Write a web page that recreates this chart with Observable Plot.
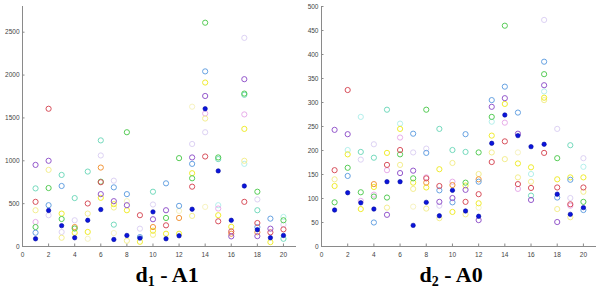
<!DOCTYPE html>
<html>
<head>
<meta charset="utf-8">
<script src="https://cdn.jsdelivr.net/npm/d3@7"></script>
<script src="https://cdn.jsdelivr.net/npm/@observablehq/plot@0.6"></script>
<style>
  body { margin: 0; background: #fff; }
  #wrap { position: relative; width: 600px; height: 295px; overflow: hidden; }
  .panel { position: absolute; top: 0; }
  .lbl { position: absolute; top: 262px; font: bold 22px "Liberation Serif", "DejaVu Serif", serif; color: #000; transform: translateX(-50%); white-space: nowrap; }
  .lbl sub { font-size: 14px; vertical-align: -4px; }
</style>
</head>
<body>
<div id="wrap">
  <div id="left" class="panel" style="left:0px"></div>
  <div id="right" class="panel" style="left:300px"></div>
  <div class="lbl" style="left:167px">d<sub>1</sub> - A1</div>
  <div class="lbl" style="left:451px">d<sub>2</sub> - A0</div>
</div>
<script>
// x categories
const xs = [1,2,3,4,5,6,7,8,9,10,11,12,13,14,15,16,17,18,19,20];
const xTicks = [0,2,4,6,8,10,12,14,16,18,20];
const yTicksLeft = [0,500,1000,1500,2000,2500];
const yTicksRight = [0,50,100,150,200,250,300,350,400,450,500];

// Left panel (d1 - A1)
const d1_blue        = [90,420,243,102,306,431,82,129,98,404,90,125,435,1607,882,306,706,196,102,129];
const d1_red         = [521,1607,null,null,502,750,null,null,365,null,247,null,698,1050,294,176,521,274,165,200];
const d1_orange      = [null,null,null,227,null,921,null,null,null,227,null,333,null,null,null,149,null,166,null,null];
const d1_yellow      = [null,null,384,160,170,568,494,423,55,184,149,149,855,1913,365,230,1372,null,51,null];
const d1_lightYellow = [423,894,102,null,384,null,455,67,null,137,null,null,357,1493,null,null,1000,null,null,null];
const d1_paleYellow  = [null,null,null,null,90,null,157,529,null,null,null,415,1631,462,null,null,null,null,null,null];
const d1_green       = [227,682,321,210,null,756,null,1333,null,null,333,1031,796,2611,1039,null,1784,639,null,306];
const d1_cyan        = [678,null,835,565,874,1238,255,null,null,639,null,null,null,null,1020,null,1770,423,null,90];
const d1_paleCyan    = [null,null,null,null,null,null,null,null,null,null,null,null,null,null,482,null,964,null,null,345];
const d1_lightBlue   = [161,482,706,null,null,null,690,611,110,null,737,474,964,2043,null,null,null,227,325,null];
const d1_purple      = [952,1000,null,null,null,611,529,482,null,318,423,null,1039,1756,null,118,1952,121,208,null];
const d1_lavender    = [null,365,169,306,null,1062,768,null,208,490,null,null,1196,1333,null,null,2434,549,null,255];
const d1_pink        = [286,null,null,null,null,null,null,null,null,null,null,null,null,1552,443,null,1541,null,null,null];

// Right panel (d2 - A0)
const d2_blue        = [76,112,91,78,135,135,44,92,64,117,74,63,215,274,231,208,213,109,67,81];
const d2_red         = [159,326,null,null,170,201,null,142,126,null,93,109,176,219,130,122,195,123,88,123];
const d2_orange      = [null,null,null,130,null,null,null,133,null,128,null,140,null,null,null,null,null,null,null,null];
const d2_yellow      = [126,192,78,124,195,245,133,123,161,72,127,90,231,297,173,165,310,140,144,144];
const d2_lightYellow = [140,null,null,null,81,170,120,79,59,174,67,151,196,182,144,135,305,78,61,114];
const d2_paleYellow  = [null,null,null,null,null,null,83,null,null,null,null,81,null,null,196,null,null,null,null,null];
const d2_green       = [92,164,113,104,102,192,142,285,null,null,133,196,270,460,null,null,359,184,null,93];
const d2_cyan        = [null,null,197,185,285,null,null,null,245,201,197,null,null,null,null,106,null,null,211,null];
const d2_paleCyan    = [null,201,270,null,null,256,null,null,null,null,null,null,260,null,null,151,323,null,null,166];
const d2_lightBlue   = [null,147,null,50,null,null,235,195,117,92,234,135,305,333,279,null,385,102,139,76];
const d2_purple      = [243,234,null,null,66,153,158,null,93,101,118,55,291,309,235,97,336,51,null,null];
const d2_lavender    = [null,null,181,213,null,null,196,204,85,null,null,null,null,null,null,null,472,245,101,184];
const d2_pink        = [null,null,95,108,159,227,null,144,null,135,null,null,null,258,120,null,null,null,85,null];

const colors = {
  red: "#d8505c", orange: "#f2963a", yellow: "#f0ec30", lightYellow: "#f4ee90",
  paleYellow: "#f7f3c0", green: "#56cc56", cyan: "#74dabd", paleCyan: "#b4f0ec",
  lightBlue: "#66a2e2", purple: "#9458cc", lavender: "#ddd2f4", pink: "#e8adea", blue: "#0a14dc"
};

function rows(name, vals) {
  const out = [];
  vals.forEach((v, i) => { if (v != null) out.push({x: xs[i], y: v, s: name}); });
  return out;
}

function panel(series, blue, yDomain, yTicks, marginLeft) {
  const open = series.flatMap(([n, v]) => rows(n, v));
  const filled = rows("blue", blue);
  return Plot.plot({
    width: 300, height: 258,
    marginLeft, marginRight: 4, marginTop: 6, marginBottom: 12,
    x: {domain: [0, 21]},
    y: {domain: yDomain},
    style: {fontFamily: "'Liberation Sans', Arial, sans-serif", background: "#fff"},
    marks: [
      Plot.ruleX([0], {y1: yDomain[0], y2: yDomain[1], stroke: "#8a8a8a", strokeWidth: 1}),
      Plot.ruleY([0], {stroke: "#8a8a8a", strokeWidth: 1}),
      Plot.axisX({ticks: xTicks, tickFormat: d => String(d), tickSize: -2.5, tickPadding: 8, fontSize: 6.5, fill: "#444", stroke: "#8a8a8a", label: null}),
      Plot.axisY({ticks: yTicks, tickFormat: d => String(d), tickSize: -2.5, tickPadding: 5.5, fontSize: 6.5, fill: "#444", stroke: "#8a8a8a", label: null}),
      Plot.dot(open, {x: "x", y: "y", r: 2.6, strokeWidth: 1.0, stroke: d => colors[d.s], fill: "none"}),
      Plot.dot(filled, {x: "x", y: "y", r: 2.2, symbol: "circle", fill: colors.blue, stroke: "#0008a0", strokeWidth: 0.6})
    ]
  });
}

const leftSeries = [
  ["lavender", d1_lavender], ["paleCyan", d1_paleCyan], ["paleYellow", d1_paleYellow],
  ["pink", d1_pink], ["lightYellow", d1_lightYellow], ["cyan", d1_cyan],
  ["yellow", d1_yellow], ["orange", d1_orange], ["green", d1_green],
  ["lightBlue", d1_lightBlue], ["red", d1_red], ["purple", d1_purple]
];
const rightSeries = [
  ["lavender", d2_lavender], ["paleCyan", d2_paleCyan], ["paleYellow", d2_paleYellow],
  ["pink", d2_pink], ["lightYellow", d2_lightYellow], ["cyan", d2_cyan],
  ["yellow", d2_yellow], ["orange", d2_orange], ["green", d2_green],
  ["lightBlue", d2_lightBlue], ["red", d2_red], ["purple", d2_purple]
];

document.getElementById("left").append(panel(leftSeries, d1_blue, [0, 2800], yTicksLeft, 22));
document.getElementById("right").append(panel(rightSeries, d2_blue, [0, 500], yTicksRight, 21));
</script>
</body>
</html>
